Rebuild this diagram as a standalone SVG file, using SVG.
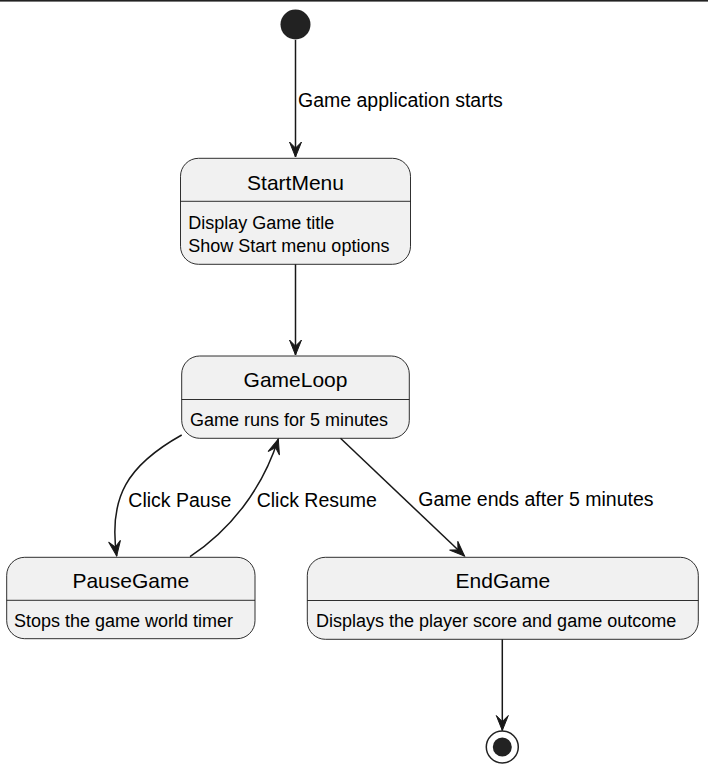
<svg xmlns="http://www.w3.org/2000/svg" width="708" height="771" viewBox="0 0 708 771">
<defs>
<style>
.box{fill:#F1F1F1;stroke:#181818;stroke-width:0.9}
.sep{stroke:#181818;stroke-width:0.9}
.title{font-family:"Liberation Sans",Arial,sans-serif;font-size:21px;fill:#000;text-anchor:middle}
.body{font-family:"Liberation Sans",Arial,sans-serif;font-size:18px;fill:#000}
.lbl{font-family:"Liberation Sans",Arial,sans-serif;font-size:19.5px;fill:#000}
.edge{fill:none;stroke:#181818;stroke-width:1.5}
</style>
<marker id="arr" markerUnits="userSpaceOnUse" markerWidth="20" markerHeight="16" refX="0" refY="0" viewBox="-16 -8 18 16" orient="auto" overflow="visible">
<path d="M0,0 L-15,-6 L-9,0 L-15,6 Z" fill="#181818" stroke="#181818" stroke-width="1"/>
</marker>
</defs>
<rect x="0" y="0" width="708" height="1.6" fill="#222"/>
<g id="start">
<circle cx="295.5" cy="24.5" r="15" fill="#222222"/>
</g>
<g id="StartMenu">
<rect class="box" x="180.5" y="158.3" width="230" height="106" rx="18" ry="18"/>
<line class="sep" x1="180.5" y1="201.3" x2="410.5" y2="201.3"/>
<text class="title" x="295.5" y="189.5">StartMenu</text>
<text class="body" x="188.3" y="228.7">Display Game title</text>
<text class="body" x="188.3" y="251.9">Show Start menu options</text>
</g>
<g id="GameLoop">
<rect class="box" x="181.7" y="356" width="227.6" height="82.3" rx="18" ry="18"/>
<line class="sep" x1="181.7" y1="399.5" x2="409.3" y2="399.5"/>
<text class="title" x="295.5" y="386.7">GameLoop</text>
<text class="body" x="190" y="426.3">Game runs for 5 minutes</text>
</g>
<g id="PauseGame">
<rect class="box" x="6.7" y="557.3" width="248.3" height="81.4" rx="18" ry="18"/>
<line class="sep" x1="6.7" y1="600.3" x2="255" y2="600.3"/>
<text class="title" x="130.8" y="587.5">PauseGame</text>
<text class="body" x="14" y="627.3">Stops the game world timer</text>
</g>
<g id="EndGame">
<rect class="box" x="307.3" y="557.3" width="391" height="82" rx="18" ry="18"/>
<line class="sep" x1="307.3" y1="600.5" x2="698.3" y2="600.5"/>
<text class="title" x="502.8" y="587.5">EndGame</text>
<text class="body" x="316" y="627.3">Displays the player score and game outcome</text>
</g>
<g id="end">
<circle cx="502.3" cy="747" r="16" fill="#fff" stroke="#222" stroke-width="1.5"/>
<circle cx="502.3" cy="747" r="9.5" fill="#222222"/>
</g>
<g id="connectors">
<path class="edge" d="M295.5,40 L295.5,157" marker-end="url(#arr)"/>
<text class="lbl" x="298" y="107.3">Game application starts</text>
<path class="edge" d="M295.5,264.3 L295.5,355" marker-end="url(#arr)"/>
<path class="edge" d="M181.7,435 C128,465 108,497 116.7,556" marker-end="url(#arr)"/>
<text class="lbl" x="128.3" y="506.7">Click Pause</text>
<path class="edge" d="M190,556.7 C230,530 262,490 278.3,439" marker-end="url(#arr)"/>
<text class="lbl" x="256.7" y="506.7">Click Resume</text>
<path class="edge" d="M340.5,438.3 L464.5,556" marker-end="url(#arr)"/>
<text class="lbl" x="418.3" y="506.3">Game ends after 5 minutes</text>
<path class="edge" d="M502.3,639.3 L502.3,730.5" marker-end="url(#arr)"/>
</g>
</svg>
